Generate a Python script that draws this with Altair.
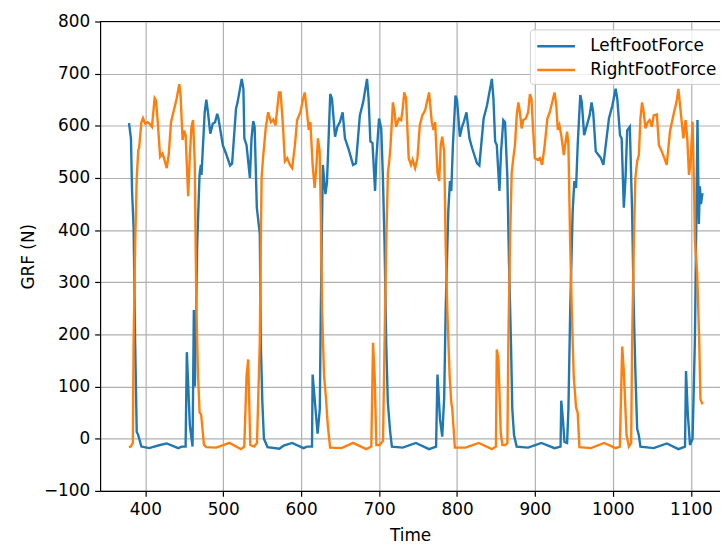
import altair as alt
import pandas as pd

# ---- data ----
left_time = [
    379.1, 381.6, 383.0, 385.0, 387.0, 389.0, 390.7, 395.0, 405.0, 418.9,
    427.5, 442.3, 446.8, 451.7, 453.3, 457.2, 460.6, 462.3, 463.6, 466.6,
    469.6, 471.3, 472.1, 476.2, 478.3, 480.4, 483.4, 486.6, 489.5, 492.3,
    494.0, 499.5, 503.5, 508.8, 511.4, 516.4, 518.4, 523.7, 525.9, 527.1,
    529.9, 534.2, 536.3, 538.5, 540.3, 543.1, 546.9, 548.2, 550.2, 552.2,
    556.8, 572.1, 577.6, 588.4, 603.0, 607.4, 613.9, 614.7, 618.4, 621.1,
    623.9, 625.2, 627.8, 631.1, 633.1, 637.3, 639.5, 643.5, 646.4, 649.7,
    653.2, 656.2, 660.5, 666.6, 670.3, 675.3, 679.5, 684.5, 686.5, 688.8,
    691.5, 694.8, 696.5, 699.9, 702.7, 704.9, 707.0, 709.1, 711.2, 714.2,
    716.4, 730.3, 747.2, 764.1, 773.1, 774.9, 778.1, 781.0, 783.5, 785.4,
    788.8, 790.9, 792.6, 794.7, 798.0, 800.0, 803.6, 806.4, 808.6, 812.1,
    815.9, 819.4, 825.6, 828.6, 834.1, 838.4, 844.7, 846.7, 848.9, 851.0,
    854.4, 856.5, 859.4, 861.6, 864.6, 866.6, 869.2, 870.9, 873.1, 876.5,
    891.2, 908.2, 925.1, 932.8, 933.7, 935.8, 937.8, 941.2, 942.9, 945.2,
    948.4, 950.5, 952.7, 954.8, 958.1, 960.1, 963.1, 966.6, 970.1, 972.6,
    974.7, 978.0, 981.5, 984.5, 987.8, 990.8, 994.9, 999.3, 1003.5, 1005.6,
    1009.1, 1011.2, 1014.0, 1016.2, 1018.3, 1021.7, 1024.6, 1026.8, 1029.0, 1031.1,
    1033.2, 1035.3, 1052.3, 1069.2, 1084.0, 1092.5, 1093.8, 1096.0, 1098.9, 1102.2,
    1105.2, 1108.5, 1110.3, 1111.5, 1113.0, 1114.9,
]
left_force = [
    605, 576, 475, 405, 184, 13, 8, -15, -18, -12,
    -9, -18, -15, -15, 166, 25, -15, 247, 100, 373,
    506, 525, 506, 626, 650, 626, 585, 604, 607, 623,
    613, 563, 547, 524, 528, 633, 645, 690, 671, 576,
    563, 500, 576, 609, 598, 443, 393, 184, 70, 0,
    -16, -19, -13, -8, -18, -15, -15, 123, 57, 10,
    57, 247, 525, 469, 491, 661, 652, 579, 598, 607,
    626, 576, 557, 525, 528, 620, 645, 690, 652, 570,
    567, 475, 538, 614, 595, 500, 373, 184, 70, 13,
    -15, -17, -8, -20, -15, 123, 38, 4, 79, 247,
    437, 494, 475, 563, 658, 649, 579, 598, 607, 626,
    576, 557, 528, 524, 614, 639, 690, 652, 570, 563,
    475, 551, 611, 607, 500, 342, 184, 57, 7, -15,
    -17, -8, -18, -15, 73, 38, -6, -8, 57, 247,
    437, 494, 481, 563, 659, 645, 582, 601, 620, 645,
    626, 551, 544, 538, 525, 563, 614, 639, 671, 652,
    582, 576, 443, 500, 591, 598, 437, 247, 120, 19,
    7, -15, -18, -9, -20, -15, 130, 50, -12, 0,
    190, 611, 412, 484, 450, 471,
]
right_time = [
    378.8, 381.5, 384.0, 385.0, 387.0, 389.0, 391.0, 392.0, 395.0, 397.0,
    400.0, 403.0, 405.6, 408.5, 412.0, 413.7, 416.0, 419.0, 422.0, 424.0,
    427.5, 430.0, 433.0, 436.0, 440.2, 443.6, 445.3, 447.8, 449.8, 451.7,
    455.0, 457.2, 459.2, 461.3, 463.4, 465.6, 467.7, 469.7, 471.6, 475.3,
    478.3, 491.0, 508.0, 522.8, 527.0, 529.9, 532.0, 534.7, 539.8, 543.3,
    546.9, 548.2, 549.2, 551.2, 554.5, 557.6, 561.2, 564.2, 567.1, 571.5,
    573.6, 576.6, 579.1, 582.1, 585.6, 588.4, 592.0, 594.8, 599.0, 602.5,
    604.6, 607.5, 609.7, 611.8, 614.7, 617.3, 619.4, 621.5, 623.7, 625.2,
    626.8, 629.4, 631.6, 634.2, 637.1, 651.9, 666.6, 683.5, 690.0, 692.2,
    694.3, 696.5, 700.5, 705.0, 707.0, 709.1, 711.3, 713.4, 714.7, 717.7,
    719.8, 721.8, 725.3, 728.3, 730.3, 732.3, 734.6, 738.0, 740.9, 743.0,
    746.2, 749.2, 752.2, 755.5, 759.1, 764.1, 767.6, 769.8, 771.9, 774.9,
    777.1, 779.1, 781.0, 783.5, 785.4, 787.5, 790.5, 792.6, 793.9, 797.2,
    810.9, 827.8, 844.7, 849.9, 851.0, 853.1, 856.1, 858.2, 862.0, 864.6,
    865.8, 867.9, 870.1, 872.2, 874.3, 876.6, 878.6, 880.6, 882.9, 885.0,
    888.3, 891.2, 893.5, 895.5, 897.5, 899.8, 903.2, 906.2, 909.1, 912.5,
    915.9, 919.0, 925.1, 927.3, 929.3, 931.3, 933.7, 937.0, 938.6, 941.2,
    942.9, 945.2, 947.2, 949.7, 952.7, 954.8, 957.0, 971.9, 988.7, 1003.5,
    1008.9, 1011.9, 1013.9, 1017.5, 1020.5, 1023.4, 1024.6, 1026.8, 1028.8, 1031.1,
    1033.3, 1035.3, 1037.4, 1039.5, 1041.7, 1044.7, 1047.1, 1050.0, 1052.3, 1056.4,
    1059.0, 1062.6, 1066.0, 1069.0, 1073.3, 1078.0, 1081.5, 1084.0, 1090.4, 1093.3,
    1095.4, 1097.6, 1099.7, 1102.2, 1104.3, 1105.2, 1108.1, 1110.7, 1112.3, 1114.9,
]
right_force = [
    -16, -15, -8, 184, 373, 500, 554, 557, 607, 615,
    604, 607, 604, 598, 653, 649, 607, 541, 547, 538,
    519, 544, 607, 626, 652, 680, 658, 573, 591, 582,
    465, 544, 598, 611, 532, 247, 120, 50, 47, -12,
    -16, -17, -8, -20, -15, 120, 152, -12, -15, -8,
    184, 373, 500, 541, 595, 626, 607, 612, 601, 664,
    664, 601, 532, 538, 525, 519, 563, 611, 626, 652,
    664, 626, 592, 607, 525, 481, 519, 576, 551, 437,
    247, 120, 82, 25, -17, -18, -8, -20, -15, 184,
    120, -12, -12, -4, 184, 373, 510, 538, 563, 645,
    626, 598, 614, 611, 633, 664, 652, 538, 525, 535,
    519, 538, 601, 620, 630, 664, 607, 592, 607, 510,
    494, 563, 579, 551, 373, 247, 120, 70, 57, -17,
    -17, -8, -20, -15, 171, 152, 10, -12, -12, -8,
    184, 373, 510, 538, 563, 620, 645, 626, 595, 611,
    614, 626, 661, 652, 595, 538, 535, 538, 525, 563,
    614, 626, 664, 639, 592, 601, 582, 544, 563, 589,
    563, 373, 247, 120, 60, 50, -16, -18, -8, -18,
    -15, 177, 132, 7, -15, -8, 184, 373, 500, 532,
    544, 614, 645, 626, 595, 607, 611, 598, 620, 622,
    563, 551, 538, 525, 590, 623, 645, 671, 576, 611,
    576, 506, 532, 608, 468, 380, 317, 190, 76, 66,
]
series_names = ["LeftFootForce", "RightFootForce"]
series_colors = ["#1f77b4", "#ff7f0e"]
x_ticks = [400, 500, 600, 700, 800, 900, 1000, 1100]
y_ticks = [-100, 0, 100, 200, 300, 400, 500, 600, 700, 800]

df = pd.concat([
    pd.DataFrame({"Time": left_time, "GRF": left_force, "series": series_names[0]}),
    pd.DataFrame({"Time": right_time, "GRF": right_force, "series": series_names[1]}),
], ignore_index=True)

FONT = "DejaVu Sans"
x_scale = alt.Scale(domain=[342, 1137.4], nice=False, zero=False)
y_scale = alt.Scale(domain=[-100, 800], nice=False, zero=False)

lines = alt.Chart(df).mark_line(strokeWidth=2.4).encode(
    x=alt.X("Time:Q", scale=x_scale,
            axis=alt.Axis(values=x_ticks, format="d", title="Time", titlePadding=11)),
    y=alt.Y("GRF:Q", scale=y_scale,
            axis=alt.Axis(values=y_ticks, format="d", title="GRF (N)", titlePadding=6)),
    color=alt.Color("series:N",
                    scale=alt.Scale(domain=series_names, range=series_colors),
                    legend=alt.Legend(
                        title=None, orient="none", legendX=434, legendY=8,
                        symbolType="M-1,0H3", symbolSize=361,
                        symbolStrokeWidth=2.4,
                        labelFont=FONT, labelFontSize=17, labelColor="black",
                        labelOffset=33, padding=6, rowPadding=5,
                        fillColor="rgba(255,255,255,0.8)",
                        strokeColor="#cccccc", cornerRadius=3,
                    )),
)

top_border = alt.Chart(pd.DataFrame({"y": [800]})).mark_rule(
    color="black", strokeWidth=1.2
).encode(y=alt.Y("y:Q", scale=y_scale))

chart = alt.layer(lines, top_border).properties(
    width=626, height=474,
    background="white",
    autosize=alt.AutoSizeParams(type="none"),
    padding={"left": 93, "top": 11, "right": 0, "bottom": 54},
).configure_view(stroke=None).configure_axis(
    labelFont=FONT, titleFont=FONT, labelFontSize=17, titleFontSize=17,
    titleFontWeight="normal", labelColor="black", titleColor="black",
    domainColor="black", domainWidth=1.2, tickColor="black", tickWidth=1.2,
    tickSize=5.5, labelPadding=5, gridColor="#b0b0b0", gridWidth=1.2,
)

chart.save("out.html", embed_options={"renderer": "svg", "actions": False})
